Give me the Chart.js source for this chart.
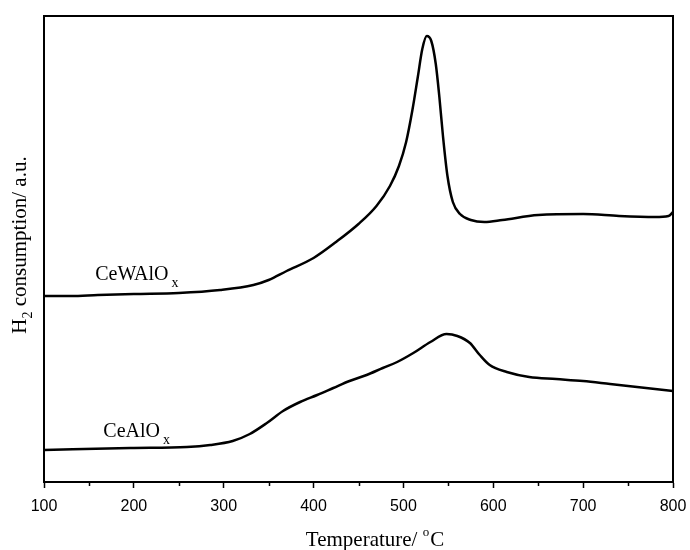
<!DOCTYPE html>
<html><head><meta charset="utf-8">
<script src="https://cdn.jsdelivr.net/npm/chart.js@4.4.0/dist/chart.umd.min.js"></script>
<style>html,body{margin:0;padding:0;background:#fff}</style>
</head><body>
<canvas id="c" width="690" height="550" style="width:690px;height:550px;display:block"></canvas>
<script>
// ---- data (temperature in °C, signal in arbitrary units) ----
const tempsCeWAlOx = [100,130,160,200,250,296,333,350,370,400,425,450,470,485,495,503,510,516,521,526,531,536,540,544,549,555,563,575,590,610,650,700,740,780,795,800];
const valuesCeWAlOx = [186,186,187,188,189,192,197,202,211,224,240,258,276,296,316,340,372,405,433,446,441,418,385,346,306,280,268,262,260,262,267,268,266,265,266,270];
const tempsCeAlOx = [100,196,259,285,310,329,348,366,385,404,422,440,459,477,493,511,530,548,560,574,585,596,615,640,670,700,730,760,800];
const valuesCeAlOx = [32,34,35,37,41,48,59,71,80,87,94,101,107,114,120,129,140,148,146,139,127,117,110,105,103,101,98,95,91];
const seriesNames = ['CeWAlO', 'CeAlO'];
const seriesSub = 'x';
const labelAnchorT = [157, 166];
const labelAnchorV = [202, 45];
const xMin = 100, xMax = 800, xMajor = 100, xMinor = 50;
const yMin = 0, yMax = 466;
const xTitle = 'Temperature/ ';
const yTitleMain = 'H';
const yTitleSub = '2';
const yTitleRest = ' consumption/ a.u.';

const toPts = (ts, vs) => ts.map((t, i) => ({x: t, y: vs[i]}));

const SERIF = '"Liberation Serif", "Times New Roman", serif';
const SANS = '"Liberation Sans", Arial, sans-serif';

const extras = {
  id: 'extras',
  afterDraw(chart) {
    const ctx = chart.ctx, a = chart.chartArea;
    const xs = chart.scales.x, ys = chart.scales.y;
    ctx.save();
    // top and right frame
    ctx.strokeStyle = '#000'; ctx.lineWidth = 2;
    ctx.beginPath();
    ctx.moveTo(a.left, a.top); ctx.lineTo(a.right, a.top); ctx.lineTo(a.right, a.bottom);
    ctx.stroke();
    // minor ticks
    ctx.lineWidth = 1.5;
    for (let v = xMin + xMinor; v < xMax; v += xMajor) {
      const px = Math.round(xs.getPixelForValue(v)) + 0.5;
      ctx.beginPath(); ctx.moveTo(px, a.bottom); ctx.lineTo(px, a.bottom + 4); ctx.stroke();
    }
    // series labels
    ctx.fillStyle = '#000';
    ctx.textBaseline = 'alphabetic'; ctx.textAlign = 'left';
    for (let i = 0; i < seriesNames.length; i++) {
      const px = xs.getPixelForValue(labelAnchorT[i]);
      const py = ys.getPixelForValue(labelAnchorV[i]);
      ctx.font = '20px ' + SERIF;
      ctx.fillText(seriesNames[i], px, py);
      const w = ctx.measureText(seriesNames[i]).width;
      ctx.font = '14px ' + SERIF;
      ctx.fillText(seriesSub, px + w + 3, py + 7);
    }
    // x title
    ctx.font = '21px ' + SERIF;
    const w1 = ctx.measureText(xTitle).width;
    ctx.font = '13px ' + SERIF;
    const wo = ctx.measureText('o').width;
    ctx.font = '21px ' + SERIF;
    const wc = ctx.measureText('C').width;
    const total = w1 + wo + wc + 1;
    let sx = 375 - total / 2;
    const by = 546;
    ctx.fillText(xTitle, sx, by);
    ctx.font = '13px ' + SERIF;
    ctx.fillText('o', sx + w1, by - 10);
    ctx.font = '21px ' + SERIF;
    ctx.fillText('C', sx + w1 + wo + 1, by);
    // y title (rotated)
    ctx.translate(26, (a.top + a.bottom) / 2 - 4);
    ctx.rotate(-Math.PI / 2);
    ctx.font = '21px ' + SERIF;
    const h1 = ctx.measureText(yTitleMain).width;
    const h3 = ctx.measureText(yTitleRest).width;
    ctx.font = '14px ' + SERIF;
    const h2 = ctx.measureText(yTitleSub).width;
    const tot = h1 + h2 + h3;
    let tx = -tot / 2;
    ctx.font = '21px ' + SERIF;
    ctx.fillText(yTitleMain, tx, 0);
    ctx.font = '14px ' + SERIF;
    ctx.fillText(yTitleSub, tx + h1, 6);
    ctx.font = '21px ' + SERIF;
    ctx.fillText(yTitleRest, tx + h1 + h2, 0);
    ctx.restore();
  }
};

new Chart(document.getElementById('c'), {
  type: 'line',
  data: {
    datasets: [
      {label: 'CeWAlOx', data: toPts(tempsCeWAlOx, valuesCeWAlOx)},
      {label: 'CeAlOx', data: toPts(tempsCeAlOx, valuesCeAlOx)}
    ].map(d => Object.assign(d, {
      borderColor: '#000', borderWidth: 2.5, pointRadius: 0,
      cubicInterpolationMode: 'monotone', fill: false
    }))
  },
  options: {
    responsive: false, animation: false, devicePixelRatio: 1,
    layout: {padding: {top: 16, right: 17, left: 0, bottom: 0}},
    plugins: {legend: {display: false}, tooltip: {enabled: false}},
    scales: {
      x: {
        type: 'linear', min: xMin, max: xMax,
        afterFit(s) { s.height = 68; s.paddingLeft = 0; s.paddingRight = 0; },
        afterBuildTicks(s) {
          const t = [];
          for (let v = xMin; v <= xMax; v += xMajor) t.push({value: v});
          s.ticks = t;
        },
        ticks: {color: '#000', font: {family: SANS, size: 16}, padding: 9, maxRotation: 0},
        grid: {drawOnChartArea: false, drawTicks: true, tickLength: 6, tickWidth: 1.5, tickColor: '#000'},
        border: {display: true, color: '#000', width: 2}
      },
      y: {
        type: 'linear', min: yMin, max: yMax,
        afterFit(s) { s.width = 44; },
        ticks: {display: false},
        grid: {display: false},
        border: {display: true, color: '#000', width: 2}
      }
    }
  },
  plugins: [extras]
});
</script>
</body></html>
